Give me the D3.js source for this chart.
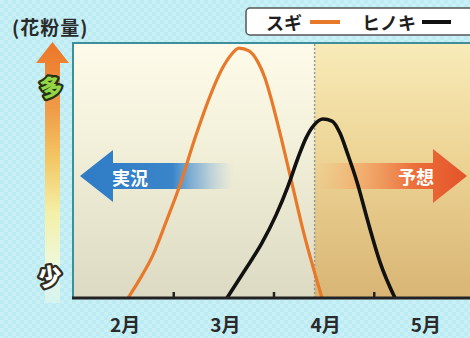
<!DOCTYPE html>
<html lang="ja">
<head>
<meta charset="utf-8">
<script src="https://cdn.jsdelivr.net/npm/d3@7"></script>
<style>
  html, body { margin: 0; padding: 0; background: #bfecf3; }
  svg { display: block; }
  text { font-family: "Noto Sans CJK JP", "Noto Sans", sans-serif; }
</style>
</head>
<body>
<svg id="chart" width="470" height="338"></svg>
<script>
// Months shown along the bottom (x = months since 1 Feb)
const monthLabels = ["2月", "3月", "4月", "5月"];
const monthStarts = [0, 1, 2, 3];
const forecastStart = 2.41; // boundary between observed and forecast

// Pollen level 0–100, sugi (cedar)
const sugiMonth = [0.549, 0.668, 0.798, 0.928, 1.067, 1.227, 1.367, 1.486, 1.576, 1.656, 1.756, 1.845, 1.915, 1.975, 2.045, 2.165, 2.294, 2.484];
const sugiLevel = [0, 7.5, 16.9, 29.8, 44.3, 63.9, 79.2, 89.8, 95.3, 98.0, 96.9, 92.5, 86.3, 78.4, 67.8, 48.2, 26.7, 0];

// Pollen level 0–100, hinoki (cypress)
const hinokiMonth = [1.536, 1.716, 1.885, 2.025, 2.145, 2.244, 2.324, 2.404, 2.494, 2.584, 2.663, 2.743, 2.833, 2.943, 3.062, 3.212];
const hinokiLevel = [0, 11.0, 21.6, 32.5, 43.9, 54.9, 62.7, 67.8, 70.2, 69.4, 64.7, 56.1, 45.5, 29.8, 14.1, 0];

const legendItems = [
  { name: "スギ", color: "#e8782a" },
  { name: "ヒノキ", color: "#111111" }
];

const W = 470, H = 338;
const plot = { left: 73, top: 43, bottom: 298, right: 470 };

const svg = d3.select("#chart");
const defs = svg.append("defs");

const x = d3.scaleLinear().domain([0, 4]).range([plot.left, plot.left + 401]);
const y = d3.scaleLinear().domain([0, 100]).range([plot.bottom, plot.top]);

// ---- gradients & patterns ----
const checker = defs.append("pattern").attr("id", "checker")
  .attr("width", 8).attr("height", 8).attr("patternUnits", "userSpaceOnUse");
checker.append("rect").attr("width", 8).attr("height", 8).attr("fill", "#bdebf2");
checker.append("rect").attr("width", 4).attr("height", 4).attr("fill", "#c8f0f6");
checker.append("rect").attr("x", 4).attr("y", 4).attr("width", 4).attr("height", 4).attr("fill", "#c8f0f6");

function vGrad(id, stops, y1, y2) {
  const g = defs.append("linearGradient").attr("id", id)
    .attr("gradientUnits", "userSpaceOnUse")
    .attr("x1", 0).attr("x2", 0).attr("y1", y1).attr("y2", y2);
  stops.forEach(s => g.append("stop").attr("offset", s[0]).attr("stop-color", s[1]).attr("stop-opacity", s[2] ?? 1));
}
function hGrad(id, stops, x1, x2) {
  const g = defs.append("linearGradient").attr("id", id)
    .attr("gradientUnits", "userSpaceOnUse")
    .attr("x1", x1).attr("x2", x2).attr("y1", 0).attr("y2", 0);
  stops.forEach(s => g.append("stop").attr("offset", s[0]).attr("stop-color", s[1]).attr("stop-opacity", s[2] ?? 1));
}

vGrad("obsBg", [[0, "#fefbea"], [0.45, "#f1eed8"], [1, "#dcdac3"]], plot.top, plot.bottom);
vGrad("fcBg", [[0, "#f8ebb8"], [0.45, "#edd495"], [1, "#d8b574"]], plot.top, plot.bottom);
vGrad("levelArrow", [[0, "#ec7628"], [0.25, "#f09a48"], [0.45, "#f4c866"], [0.65, "#f3f0a8"], [0.85, "#eef8dc"], [1, "#e2f6ee", 0.6]], 42, 305);
hGrad("obsArrow", [[0, "#2f7cc6"], [0.6, "#3a84c9"], [0.8, "#6fa8d6", 0.6], [1, "#a8c8e0", 0]], 80, 234);
hGrad("fcArrow", [[0, "#f6b070", 0], [0.3, "#f3a464", 0.75], [0.65, "#ec6e3a"], [1, "#e4532a"]], 315, 468);

// ---- background ----
svg.append("rect").attr("width", W).attr("height", H).attr("fill", "url(#checker)");

// plot panels: observed (left) and forecast (right)
svg.append("rect")
  .attr("x", plot.left).attr("y", plot.top)
  .attr("width", x(forecastStart) - plot.left).attr("height", plot.bottom - plot.top)
  .attr("fill", "url(#obsBg)");
svg.append("rect")
  .attr("x", x(forecastStart)).attr("y", plot.top)
  .attr("width", plot.right - x(forecastStart)).attr("height", plot.bottom - plot.top)
  .attr("fill", "url(#fcBg)");

// frame: top and left edges
svg.append("path")
  .attr("d", `M${plot.left},${plot.bottom} V${plot.top} H${plot.right}`)
  .attr("fill", "none").attr("stroke", "#3f8e9c").attr("stroke-width", 2);

// forecast boundary
svg.append("line")
  .attr("x1", x(forecastStart)).attr("x2", x(forecastStart))
  .attr("y1", plot.top + 1).attr("y2", plot.bottom)
  .attr("stroke", "#9a9a96").attr("stroke-width", 1.5).attr("stroke-dasharray", "2,2");

// ---- direction arrows ----
const midY = 176;
// observed: pointing left
svg.append("path")
  .attr("d", `M80,${midY} L113,150 L113,163 L234,163 L234,189 L113,189 L113,202 Z`)
  .attr("fill", "url(#obsArrow)");
svg.append("text").attr("x", 130).attr("y", midY + 1)
  .attr("text-anchor", "middle").attr("dominant-baseline", "central")
  .attr("font-size", 18).attr("font-weight", 700).attr("fill", "#ffffff")
  .text("実況");

// forecast: pointing right
svg.append("path")
  .attr("d", `M315,163 L433,163 L433,149 L467,${midY} L433,203 L433,189 L315,189 Z`)
  .attr("fill", "url(#fcArrow)");
svg.append("text").attr("x", 416).attr("y", midY)
  .attr("text-anchor", "middle").attr("dominant-baseline", "central")
  .attr("font-size", 18).attr("font-weight", 700).attr("fill", "#ffffff")
  .text("予想");

// ---- curves ----
const line = d3.line()
  .x(d => x(d[0])).y(d => y(d[1]))
  .curve(d3.curveMonotoneX);

svg.append("path")
  .datum(d3.zip(sugiMonth, sugiLevel))
  .attr("d", line)
  .attr("fill", "none").attr("stroke", legendItems[0].color)
  .attr("stroke-width", 3.2).attr("stroke-linejoin", "round");

svg.append("path")
  .datum(d3.zip(hinokiMonth, hinokiLevel))
  .attr("d", line)
  .attr("fill", "none").attr("stroke", legendItems[1].color)
  .attr("stroke-width", 3.6).attr("stroke-linejoin", "round");

// ---- x axis ----
const xAxis = d3.axisBottom(x).tickValues(monthStarts.slice(1))
  .tickSize(-6).tickFormat("");
const axisG = svg.append("g").attr("transform", `translate(0,${plot.bottom})`).call(xAxis);
axisG.select(".domain").remove();
axisG.selectAll(".tick line").attr("stroke", "#222").attr("stroke-width", 2.5);
svg.append("line")
  .attr("x1", plot.left - 1).attr("x2", plot.right)
  .attr("y1", plot.bottom).attr("y2", plot.bottom)
  .attr("stroke", "#222").attr("stroke-width", 3);

svg.append("g").selectAll("text")
  .data(monthLabels)
  .join("text")
  .attr("x", (d, i) => x(monthStarts[i] + 0.52))
  .attr("y", 323)
  .attr("text-anchor", "middle").attr("dominant-baseline", "central")
  .attr("font-size", 19).attr("font-weight", 700).attr("fill", "#2a2a2a")
  .text(d => d);

// ---- pollen level scale (left) ----
svg.append("path")
  .attr("d", "M45,303 V63 H36 L52.5,42 L69,63 H60 V303 Z")
  .attr("fill", "url(#levelArrow)");

svg.append("text").attr("x", 51).attr("y", 86)
  .attr("text-anchor", "middle").attr("dominant-baseline", "central")
  .attr("font-size", 23).attr("font-weight", 900)
  .attr("fill", "#94d646").attr("stroke", "#243018").attr("stroke-width", 4.5)
  .attr("paint-order", "stroke").attr("stroke-linejoin", "round")
  .attr("transform", "rotate(-8,51,86)")
  .text("多");
svg.append("text").attr("x", 50).attr("y", 275)
  .attr("text-anchor", "middle").attr("dominant-baseline", "central")
  .attr("font-size", 23).attr("font-weight", 900)
  .attr("fill", "#ffffff").attr("stroke", "#2e2a1e").attr("stroke-width", 4.5)
  .attr("paint-order", "stroke").attr("stroke-linejoin", "round")
  .attr("transform", "rotate(-8,50,275)")
  .text("少");

svg.append("text").attr("x", 12).attr("y", 26)
  .attr("dominant-baseline", "central")
  .attr("font-size", 19).attr("font-weight", 700).attr("fill", "#2a2a2a")
  .attr("letter-spacing", 1)
  .text("(花粉量)");

// ---- legend ----
svg.append("rect")
  .attr("x", 246).attr("y", 8).attr("width", 240).attr("height", 27).attr("rx", 4)
  .attr("fill", "#ffffff").attr("stroke", "#555555").attr("stroke-width", 1.5);
const legendPos = [{ tx: 266, lx1: 310, lx2: 340 }, { tx: 362, lx1: 422, lx2: 451 }];
legendItems.forEach((it, i) => {
  const p = legendPos[i];
  svg.append("text").attr("x", p.tx).attr("y", 22)
    .attr("dominant-baseline", "central")
    .attr("font-size", 18).attr("font-weight", 700).attr("fill", "#1e1e1e")
    .text(it.name);
  svg.append("line")
    .attr("x1", p.lx1).attr("x2", p.lx2).attr("y1", 22).attr("y2", 22)
    .attr("stroke", it.color).attr("stroke-width", 4);
});
</script>
</body>
</html>
